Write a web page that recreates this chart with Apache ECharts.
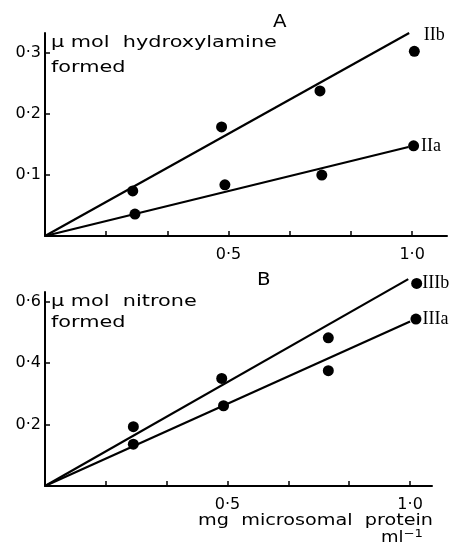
<!DOCTYPE html>
<html><head><meta charset="utf-8">
<script src="https://cdn.jsdelivr.net/npm/echarts@6/dist/echarts.min.js"></script>
<style>html,body{margin:0;padding:0;background:#fff}#c{width:453px;height:547px}</style>
</head><body><div id="c"></div>
<script>
// Panel A: hydroxylamine formed (x = mg microsomal protein ml-1)
const xIIa = [0.245, 0.49, 0.754, 1.004];
const yIIa = [0.036, 0.084, 0.100, 0.148];
const xIIb = [0.239, 0.481, 0.749, 1.006];
const yIIb = [0.074, 0.179, 0.238, 0.303];
const fitIIa = [[0, 0], [0.99, 0.146]];
const fitIIb = [[0, 0], [0.992, 0.333]];
// Panel B: nitrone formed
const xIIIa = [0.242, 0.489, 0.776, 1.016];
const yIIIa = [0.136, 0.261, 0.375, 0.543];
const xIIIb = [0.242, 0.484, 0.776, 1.018];
const yIIIb = [0.193, 0.350, 0.482, 0.659];
const fitIIIa = [[0, 0], [1.0, 0.535]];
const fitIIIb = [[0, 0], [0.995, 0.673]];
// Tick labels
const xTicks = [1/6, 2/6, 3/6, 4/6, 5/6, 1.0];
const xTickLabels = [0.5, 1.0];
const yTicksA = [0.1, 0.2, 0.3];
const yTicksB = [0.2, 0.4, 0.6];

const FONT = 'DejaVu Sans';
const fmt = v => v.toFixed(1).replace('.', '\u00b7');
const pts = (xs, ys) => xs.map((x, i) => [x, ys[i]]);

function xAxis(gi, max) {
  return {
    type: 'value', gridIndex: gi, min: 0, max: max,
    axisLine: {show: true, onZero: false, lineStyle: {color: '#000', width: 2}},
    axisTick: {show: true, inside: true, length: 5, lineStyle: {color: '#000', width: 1.5}, customValues: xTicks},
    axisLabel: {show: true, customValues: xTickLabels, formatter: fmt, color: '#000', fontFamily: FONT, fontSize: 16, margin: 11},
    splitLine: {show: false}
  };
}
function yAxis(gi, max, ticks) {
  return {
    type: 'value', gridIndex: gi, min: 0, max: max,
    axisLine: {show: true, onZero: false, lineStyle: {color: '#000', width: 2}},
    axisTick: {show: true, inside: true, length: 5, lineStyle: {color: '#000', width: 1.5}, customValues: ticks},
    axisLabel: {show: true, customValues: ticks, formatter: fmt, color: '#000', fontFamily: FONT, fontSize: 16, margin: 4},
    splitLine: {show: false}
  };
}
function scat(name, data, gi, labelDist, labelOff) {
  return {
    type: 'scatter', name: name, xAxisIndex: gi, yAxisIndex: gi, data: data,
    symbol: 'circle', symbolSize: 11, itemStyle: {color: '#000', opacity: 1},
    clip: false,
    label: {
      show: true, position: 'right', distance: labelDist, offset: labelOff,
      formatter: p => p.dataIndex === data.length - 1 ? name : '',
      color: '#000', fontFamily: 'Liberation Serif', fontSize: 18
    },
    z: 3
  };
}
function fit(data, gi) {
  return {
    type: 'line', xAxisIndex: gi, yAxisIndex: gi, data: data, symbol: 'none',
    clip: false,
    lineStyle: {color: '#000', width: 2.2}, silent: true, z: 2
  };
}
function txt(x, y, s, size, sx, align) {
  return {type: 'text', x: x, y: y, scaleX: sx,
    style: {text: s, font: size + 'px "DejaVu Sans"', fill: '#000', align: align || 'left', verticalAlign: 'middle'}};
}

const chart = echarts.init(document.getElementById('c'), null, {renderer: 'canvas'});
chart.setOption({
  backgroundColor: '#fff',
  animation: false,
  grid: [
    {left: 45, top: 33, width: 402, height: 203},
    {left: 45, top: 292, width: 387, height: 194}
  ],
  xAxis: [xAxis(0, 1.095), xAxis(1, 1.06)],
  yAxis: [yAxis(0, 0.333, yTicksA), yAxis(1, 0.631, yTicksB)],
  series: [
    fit(fitIIb, 0), fit(fitIIa, 0), fit(fitIIIb, 1), fit(fitIIIa, 1),
    scat('IIb', pts(xIIb, yIIb), 0, 4, [0, -16]),
    scat('IIa', pts(xIIa, yIIa), 0, 2, [0, 0]),
    scat('IIIb', pts(xIIIb, yIIIb), 1, 0, [0, 0]),
    scat('IIIa', pts(xIIIa, yIIIa), 1, 1, [0, 0])
  ],
  graphic: [
    txt(273, 22, 'A', 18, 1.1),
    txt(257, 280, 'B', 18, 1.1),
    txt(51, 43, 'μ mol  hydroxylamine', 16, 1.3),
    txt(51, 68, 'formed', 16, 1.3),
    txt(51, 302, 'μ mol  nitrone', 16, 1.3),
    txt(51, 323, 'formed', 16, 1.3),
    txt(433, 521, 'mg  microsomal  protein', 15, 1.28, 'right'),
    {type: 'text', x: 423, y: 538, scaleX: 1.2, style: {
      text: 'ml{s|−1}', font: '15px "DejaVu Sans"', fill: '#000', align: 'right', verticalAlign: 'middle',
      rich: {s: {fontSize: 11, fontFamily: 'DejaVu Sans', verticalAlign: 'top', padding: [0, 0, 8, 0]}}
    }}
  ]
});
</script></body></html>
